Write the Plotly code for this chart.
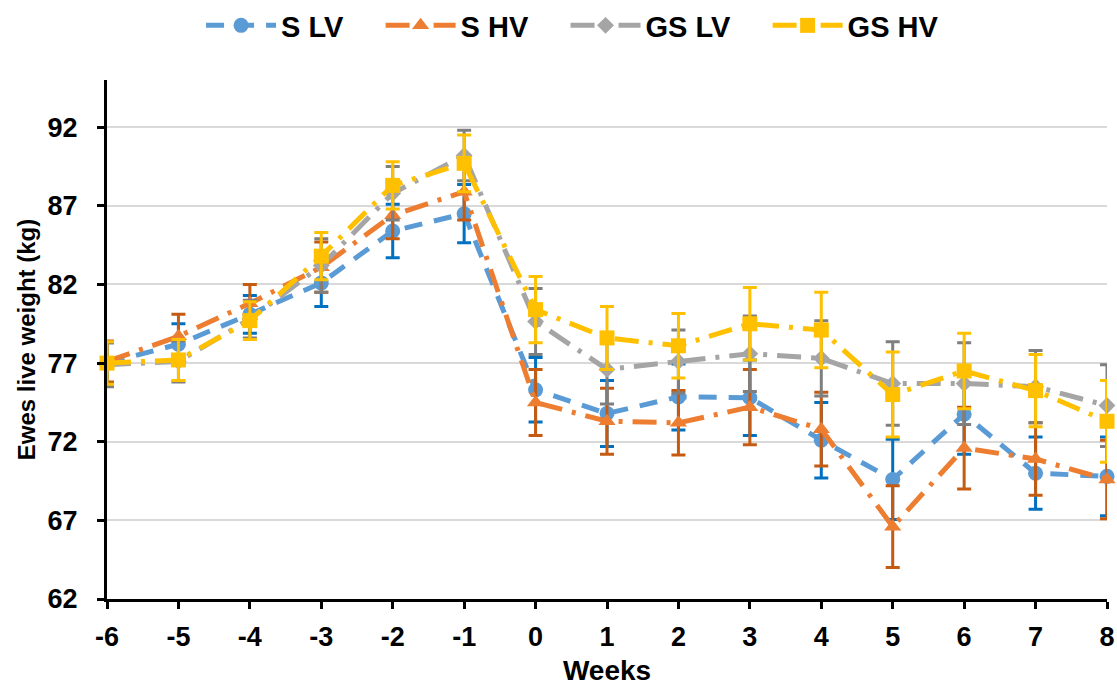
import plotly.graph_objects as go

weeks = [-6, -5, -4, -3, -2, -1, 0, 1, 2, 3, 4, 5, 6, 7, 8]

s_lv = [77.0, 78.2, 80.1, 82.1, 85.4, 86.5, 75.3, 73.8, 74.85, 74.8, 72.1, 69.6, 73.75, 70.0, 69.8]
s_lv_err = [1.3, 1.3, 1.2, 1.5, 1.7, 1.85, 2.05, 2.1, 2.1, 2.4, 2.4, 2.55, 2.55, 2.3, 2.5]

s_hv = [77.1, 78.7, 80.8, 83.1, 86.4, 87.9, 74.5, 73.3, 73.2, 74.2, 72.8, 66.6, 71.6, 70.9, 69.6]
s_hv_err = [1.3, 1.4, 1.2, 1.6, 1.5, 1.8, 2.1, 2.1, 2.05, 2.4, 2.35, 2.6, 2.6, 2.3, 2.5]

gs_lv = [76.9, 77.1, 79.8, 83.2, 87.8, 90.2, 79.65, 76.6, 77.1, 77.6, 77.3, 75.7, 75.7, 75.5, 74.3]
gs_lv_err = [1.4, 1.3, 1.2, 1.7, 1.7, 1.6, 2.1, 2.2, 2.0, 2.4, 2.4, 2.65, 2.6, 2.3, 2.6]

gs_hv = [77.0, 77.2, 79.7, 83.8, 88.3, 89.7, 80.4, 78.6, 78.1, 79.5, 79.1, 75.0, 76.5, 75.25, 73.3]
gs_hv_err = [1.35, 1.3, 1.2, 1.5, 1.5, 1.8, 2.1, 2.0, 2.05, 2.3, 2.4, 2.7, 2.4, 2.3, 2.6]

y_ticks = [62, 67, 72, 77, 82, 87, 92]

series = [
    ("S LV", s_lv, s_lv_err, "#5B9BD5", "#0070C0", "circle", "18px,12px"),
    ("S HV", s_hv, s_hv_err, "#ED7D31", "#C55A11", "triangle-up", "24px,10px,4px,10px"),
    ("GS LV", gs_lv, gs_lv_err, "#A5A5A5", "#7F7F7F", "diamond", "24px,10px,4px,10px"),
    ("GS HV", gs_hv, gs_hv_err, "#FFC000", "#FFC000", "square", "24px,10px,4px,10px"),
]

FONT = "Arial, 'Liberation Sans', sans-serif"
PAD = "\u00a0\u00a0\u00a0\u00a0"

fig = go.Figure()
for name, vals, errs, col, ecol, sym, dash in series:
    fig.add_trace(go.Scatter(
        x=weeks, y=vals, name=name + PAD, mode="lines+markers",
        line=dict(color=col, width=5, dash=dash),
        marker=dict(symbol=sym, size=15 if sym != "diamond" else 13, color=col,
                    line=dict(width=0)),
        error_y=dict(type="data", array=errs, visible=True, color=ecol,
                     thickness=3, width=7),
        cliponaxis=False,
    ))

fig.update_layout(
    width=1117, height=686,
    margin=dict(l=107, r=10, t=80, b=87),
    paper_bgcolor="white", plot_bgcolor="white",
    font=dict(family=FONT, size=20, color="black"),
    legend=dict(orientation="h", xref="container", x=0.18, xanchor="left",
                yref="container", y=1.0, yanchor="top",
                font=dict(family=FONT, size=29, color="black", weight="bold"),
                itemwidth=70, tracegroupgap=0),
    showlegend=True,
)
fig.update_xaxes(
    range=[-6, 8], tickmode="array", tickvals=weeks,
    ticktext=[str(w) for w in weeks], automargin=False,
    showline=True, linecolor="black", linewidth=3,
    ticks="outside", ticklen=7, tickwidth=2.5, tickcolor="black",
    ticklabelstandoff=5,
    showgrid=False, zeroline=False,
    tickfont=dict(family=FONT, size=27, color="black", weight="bold"),
    title=dict(text="Weeks", font=dict(family=FONT, size=28, color="black", weight="bold"),
               standoff=14),
)
fig.update_yaxes(
    range=[62, 95], tickmode="array", tickvals=y_ticks,
    automargin=False,
    showline=True, linecolor="black", linewidth=3,
    ticks="outside", ticklen=7, tickwidth=2.5, tickcolor="black",
    ticklabelstandoff=14,
    showgrid=True, gridcolor="#D9D9D9", gridwidth=2, zeroline=False,
    tickfont=dict(family=FONT, size=27, color="black", weight="bold"),
    title=dict(text="Ewes live weight (kg)", font=dict(family=FONT, size=24, color="black", weight="bold"),
               standoff=6),
)

fig.write_html("out.html")
